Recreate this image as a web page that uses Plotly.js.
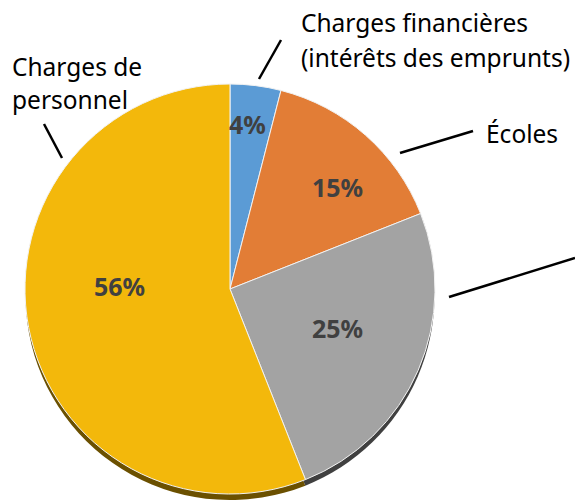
<!DOCTYPE html>
<html>
<head>
<meta charset="utf-8">
<script src="https://cdn.plot.ly/plotly-3.0.1.min.js"></script>
<style>html,body{margin:0;padding:0;background:#fff;}#chart{width:575px;height:500px;}</style>
</head>
<body>
<div id="chart"></div>
<script>
const categories = ["Charges financières (intérêts des emprunts)", "Écoles", "Autres", "Charges de personnel"];
const values = [4, 15, 25, 56];
const colors = ["#5B9BD5", "#E27D36", "#A3A3A3", "#F3B80B"];
const shadowColors = ["#2E5578", "#7A3F14", "#404040", "#6B5000"];

const W = 575, H = 500;
const cx = 230, cy = 289, r = 205;
const px = v => v / W, py = v => 1 - v / H;
const shadowDy = 7;

const pieDomain = dy => ({
  x: [px(cx - r), px(cx + r)],
  y: [py(cy + r + dy), py(cy - r + dy)]
});

const shadow = {
  type: 'pie', values: values, labels: categories, sort: false, direction: 'clockwise', rotation: 0,
  marker: {colors: shadowColors, line: {color: 'rgba(0,0,0,0)', width: 0}},
  textinfo: 'none', hoverinfo: 'skip', showlegend: false,
  domain: pieDomain(shadowDy)
};
const pie = {
  type: 'pie', values: values, labels: categories, sort: false, direction: 'clockwise', rotation: 0,
  marker: {colors: colors, line: {color: '#F2F2F2', width: 1}},
  textinfo: 'none', showlegend: false,
  domain: pieDomain(0)
};

// percentage labels placed from each slice's mid-angle (radial fraction, angular nudge in degrees)
const pctPlacement = [[0.81, -1], [0.725, 5], [0.56, -3.4], [0.54, 12.4]];
const total = values.reduce((a, b) => a + b, 0);
let cum = 0;
const pctAnnotations = values.map((v, i) => {
  const mid = (cum + v / 2) / total * 360 + pctPlacement[i][1];
  cum += v;
  const a = mid * Math.PI / 180, d = pctPlacement[i][0] * r;
  return {text: '<b>' + Math.round(v / total * 100) + '%</b>', xref: 'paper', yref: 'paper',
    x: px(cx + d * Math.sin(a)), y: py(cy - d * Math.cos(a)), xanchor: 'center', yanchor: 'middle',
    showarrow: false, font: {family: 'Noto Sans, sans-serif', size: 25, color: '#404040'}};
});

const lineStyle = {color: '#000', width: 2.5};
const leaders = [
  [259, 79, 281, 40],
  [400, 153, 473, 131],
  [449, 297, 575, 258],
  [62, 158, 44, 124]
];
const shapes = leaders.map(l => ({type: 'line', xref: 'paper', yref: 'paper',
  x0: px(l[0]), y0: py(l[1]), x1: px(l[2]), y1: py(l[3]), line: lineStyle}));

const labelFont = {family: 'Noto Sans, sans-serif', size: 24.5, color: '#000'};
const textLabels = [
  ["Charges financières", 299, 22],
  ["(intérêts des emprunts)", 299, 58],
  ["Écoles", 484, 133],
  ["Charges de", 10, 66],
  ["personnel", 10, 100]
];
const annotations = textLabels.map(t => ({text: t[0], xref: 'paper', yref: 'paper',
  x: px(t[1]), y: py(t[2]), xanchor: 'left', yanchor: 'middle', showarrow: false, font: labelFont}));

Plotly.newPlot('chart', [shadow, pie], {
  width: W, height: H, margin: {l: 0, r: 0, t: 0, b: 0},
  paper_bgcolor: '#fff', plot_bgcolor: '#fff',
  shapes: shapes, annotations: annotations.concat(pctAnnotations), showlegend: false
}, {displayModeBar: false, staticPlot: true});
</script>
</body>
</html>
